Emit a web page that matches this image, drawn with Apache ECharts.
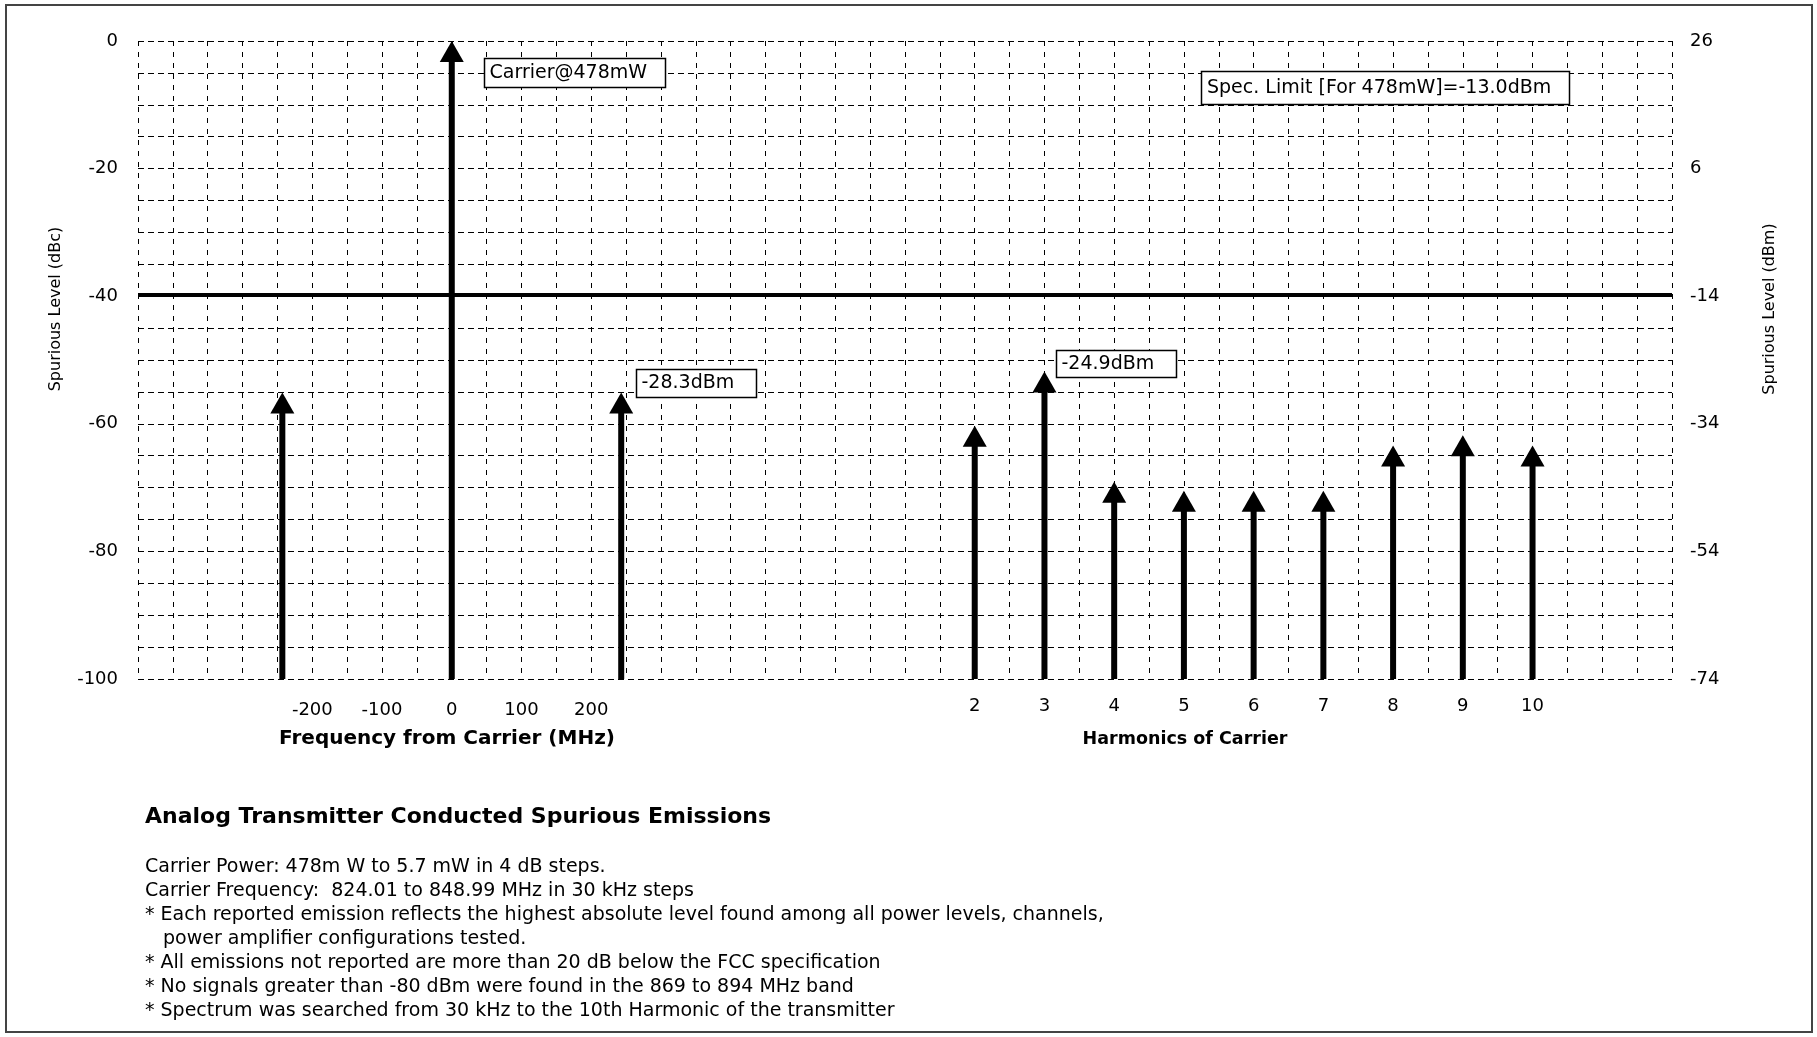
<!DOCTYPE html>
<html>
<head>
<meta charset="utf-8">
<script src="https://cdn.jsdelivr.net/npm/echarts@6/dist/echarts.min.js"></script>
<style>
html,body{margin:0;padding:0;background:#fff;}
#chart{width:1817px;height:1037px;}
</style>
</head>
<body>
<div id="chart"></div>
<script>
// ---------------- DATA ----------------
const carrierOffsetMHz   = [0];
const carrierLevelDbc    = [0];
const sidebandOffsetMHz  = [-243, 243];
const sidebandLevelDbc   = [-55.1, -55.1];
const harmonicNumbers    = [2, 3, 4, 5, 6, 7, 8, 9, 10];
const harmonicLevelDbc   = [-60.3, -51.8, -69.1, -70.5, -70.5, -70.5, -63.4, -61.8, -63.4];
const specLimitDbc       = -39.8;
const freqTickLabels     = [-200, -100, 0, 100, 200];
const harmonicTickLabels = [2, 3, 4, 5, 6, 7, 8, 9, 10];
const leftTickLabels     = [0, -20, -40, -60, -80, -100];
const rightTickLabels    = [26, 6, -14, -34, -54, -74];
const annotationTexts    = ['Carrier@478mW', '-28.3dBm', '-24.9dBm'];
const specLimitText      = 'Spec. Limit [For 478mW]=-13.0dBm';
const titleText          = 'Analog Transmitter Conducted Spurious Emissions';
const noteLines = [
  'Carrier Power: 478m W to 5.7 mW in 4 dB steps.',
  'Carrier Frequency:  824.01 to 848.99 MHz in 30 kHz steps',
  '* Each reported emission reflects the highest absolute level found among all power levels, channels,',
  'power amplifier configurations tested.',
  '* All emissions not reported are more than 20 dB below the FCC specification',
  '* No signals greater than -80 dBm were found in the 869 to 894 MHz band',
  '* Spectrum was searched from 30 kHz to the 10th Harmonic of the transmitter'
];

// ---------------- LAYOUT / STYLE ----------------
const FONT = '"DejaVu Sans", "Liberation Sans", Arial, sans-serif';
const annotationBoxes = [
  {dx: 32, dy: 17, w: 181, h: 29},
  {dx: 15, dy: -24, w: 120, h: 28},
  {dx: 12, dy: -21, w: 120, h: 27}
];
const noteX = [145, 145, 145, 163, 145, 145, 145];
const noteY = [867, 891, 915, 939, 963, 987, 1011];

// which points carry annotations
const freqAnnot = {0: 0, 243: 1};
const harmAnnot = {3: 2};

const freqData = [];
carrierOffsetMHz.forEach((f, i) => freqData.push([f, carrierLevelDbc[i], f in freqAnnot ? freqAnnot[f] : -1]));
sidebandOffsetMHz.forEach((f, i) => freqData.push([f, sidebandLevelDbc[i], f in freqAnnot ? freqAnnot[f] : -1]));
const harmData = harmonicNumbers.map((n, i) => [n, harmonicLevelDbc[i], n in harmAnnot ? harmAnnot[n] : -1]);

function renderArrow(params, api) {
  const x = api.value(0), y = api.value(1), ann = api.value(2);
  const tip = api.coord([x, y]);
  const base = api.coord([x, -100]);
  const hw = 12, hh = 21, sw = 6;
  const children = [
    {type: 'rect', shape: {x: tip[0] - sw / 2, y: tip[1] + hh - 2, width: sw, height: base[1] - tip[1] - hh + 2},
     style: {fill: '#000'}},
    {type: 'polygon', shape: {points: [[tip[0], tip[1]], [tip[0] - hw, tip[1] + hh], [tip[0] + hw, tip[1] + hh]]},
     style: {fill: '#000'}}
  ];
  if (ann >= 0) {
    const b = annotationBoxes[ann];
    const bx = Math.round(tip[0] + b.dx) + 0.5, by = Math.round(tip[1] + b.dy) + 0.5;
    children.push({type: 'rect', shape: {x: bx, y: by, width: b.w, height: b.h},
      style: {fill: '#fff', stroke: '#000', lineWidth: 1.5}});
    children.push({type: 'text', x: bx + 5, y: by + b.h / 2,
      style: {text: annotationTexts[ann], fill: '#000', font: '19px ' + FONT,
              align: 'left', verticalAlign: 'middle', textAlign: 'left', textVerticalAlign: 'middle'}});
  }
  return {type: 'group', children};
}

const chart = echarts.init(document.getElementById('chart'), null, {renderer: 'canvas'});

const tickFont = {color: '#000', fontSize: 18, fontFamily: FONT};

function txt(text, x, y, font, opts) {
  return Object.assign({
    type: 'text', x, y, silent: true,
    style: Object.assign({text, font, fill: '#000', align: 'left', verticalAlign: 'middle',
      textAlign: 'left', textVerticalAlign: 'middle'}, (opts && opts.style) || {})
  }, (opts && opts.el) || {});
}

const graphics = [
  {type: 'rect', shape: {x: 6, y: 5, width: 1806, height: 1027}, style: {fill: 'none', stroke: '#444', lineWidth: 2}, z: -10, silent: true},
  // spec limit box
  {type: 'rect', shape: {x: 1201.5, y: 71.5, width: 368, height: 33}, style: {fill: '#fff', stroke: '#000', lineWidth: 1.5}, z: 10},
  Object.assign(txt(specLimitText, 1207, 88, '19px ' + FONT), {z: 11}),
  // axis titles
  txt('Spurious Level (dBc)', 56, 309, '16px ' + FONT, {el: {rotation: Math.PI / 2}, style: {align: 'center', textAlign: 'center'}}),
  txt('Spurious Level (dBm)', 1770, 309, '16px ' + FONT, {el: {rotation: Math.PI / 2}, style: {align: 'center', textAlign: 'center'}}),
  txt('Frequency from Carrier (MHz)', 447, 739, 'bold 20px ' + FONT, {style: {align: 'center', textAlign: 'center'}}),
  txt('Harmonics of Carrier', 1185, 739, 'bold 17.5px ' + FONT, {style: {align: 'center', textAlign: 'center'}}),
  // title
  txt(titleText, 145, 817, 'bold 22px ' + FONT)
];
noteLines.forEach((line, i) => graphics.push(txt(line, noteX[i], noteY[i], '19px ' + FONT)));

chart.setOption({
  animation: false,
  backgroundColor: '#fff',
  grid: {left: 138, right: 145, top: 41, bottom: 358, containLabel: false},
  xAxis: [
    {
      type: 'value', min: -450, max: 1750, interval: 50, position: 'bottom',
      axisLine: {show: false}, axisTick: {show: false},
      splitLine: {show: true, lineStyle: {color: '#000', width: 1, type: [5, 6]}},
      axisLabel: Object.assign({margin: 22, formatter: v => freqTickLabels.includes(v) ? String(v) : ''}, tickFont)
    },
    {
      type: 'value', min: -10, max: 12, interval: 1, position: 'bottom',
      axisLine: {show: false}, axisTick: {show: false}, splitLine: {show: false},
      axisLabel: Object.assign({margin: 18, formatter: v => harmonicTickLabels.includes(v) ? String(v) : ''}, tickFont)
    }
  ],
  yAxis: [
    {
      type: 'value', min: -100, max: 0, interval: 5, position: 'left',
      axisLine: {show: false}, axisTick: {show: false},
      splitLine: {show: true, lineStyle: {color: '#000', width: 1, type: [6, 4]}},
      axisLabel: Object.assign({margin: 20, formatter: v => leftTickLabels.includes(v) ? String(v) : ''}, tickFont)
    },
    {
      type: 'value', min: -100, max: 0, interval: 20, position: 'right',
      axisLine: {show: false}, axisTick: {show: false}, splitLine: {show: false},
      axisLabel: Object.assign({margin: 18, formatter: v => {
        const k = Math.round(-v / 20);
        return rightTickLabels[k] !== undefined ? String(rightTickLabels[k]) : '';
      }}, tickFont)
    }
  ],
  series: [
    {
      type: 'line', xAxisIndex: 0, yAxisIndex: 0, symbol: 'none', silent: true,
      lineStyle: {color: '#000', width: 4},
      data: [[-450, specLimitDbc], [1750, specLimitDbc]], z: 3
    },
    {
      type: 'custom', xAxisIndex: 0, yAxisIndex: 0, renderItem: renderArrow,
      data: freqData, z: 4, clip: false
    },
    {
      type: 'custom', xAxisIndex: 1, yAxisIndex: 0, renderItem: renderArrow,
      data: harmData, z: 4, clip: false
    }
  ],
  graphic: graphics
});
</script>
</body>
</html>
